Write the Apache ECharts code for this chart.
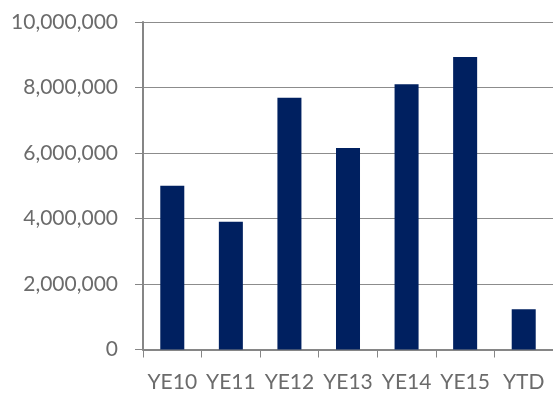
<!DOCTYPE html>
<html>
<head>
<meta charset="utf-8">
<script src="https://cdn.jsdelivr.net/npm/echarts@6/dist/echarts.min.js"></script>
<style>
html,body{margin:0;padding:0;background:#fff;}
#chart{width:553px;height:394px;}
</style>
</head>
<body>
<div id="chart"></div>
<script>
const categories = ["YE10", "YE11", "YE12", "YE13", "YE14", "YE15", "YTD"];
const values = [5000000, 3900000, 7690000, 6150000, 8100000, 8930000, 1230000];
const yTicks = [0, 2000000, 4000000, 6000000, 8000000, 10000000];

const chart = echarts.init(document.getElementById('chart'), null, {renderer: 'canvas'});
const fontFamily = 'Lato, "Open Sans", sans-serif';
chart.setOption({
  animation: false,
  backgroundColor: '#ffffff',
  grid: {left: 143, right: -2, top: 22, bottom: 44.5, containLabel: false},
  xAxis: {
    type: 'category',
    data: categories,
    boundaryGap: true,
    axisLine: {show: true, lineStyle: {color: '#868686', width: 2}},
    axisTick: {show: true, alignWithLabel: false, length: 8, lineStyle: {color: '#868686', width: 1}},
    axisLabel: {color: '#6b6b6b', fontSize: 21, fontFamily: fontFamily, margin: 22, interval: 0},
    splitLine: {show: false}
  },
  yAxis: {
    type: 'value',
    min: yTicks[0],
    max: yTicks[yTicks.length - 1],
    interval: yTicks[1] - yTicks[0],
    axisLine: {show: true, lineStyle: {color: '#868686', width: 2}},
    axisTick: {show: true, length: 8, lineStyle: {color: '#868686', width: 1}},
    axisLabel: {
      color: '#6b6b6b', fontSize: 21, fontFamily: fontFamily, margin: 25,
      formatter: v => v.toLocaleString('en-US')
    },
    splitLine: {show: true, lineStyle: {color: '#8c8c8c', width: 1}}
  },
  series: [{
    type: 'bar',
    data: values,
    barWidth: '41%',
    itemStyle: {color: '#002060'}
  }]
});
</script>
</body>
</html>
